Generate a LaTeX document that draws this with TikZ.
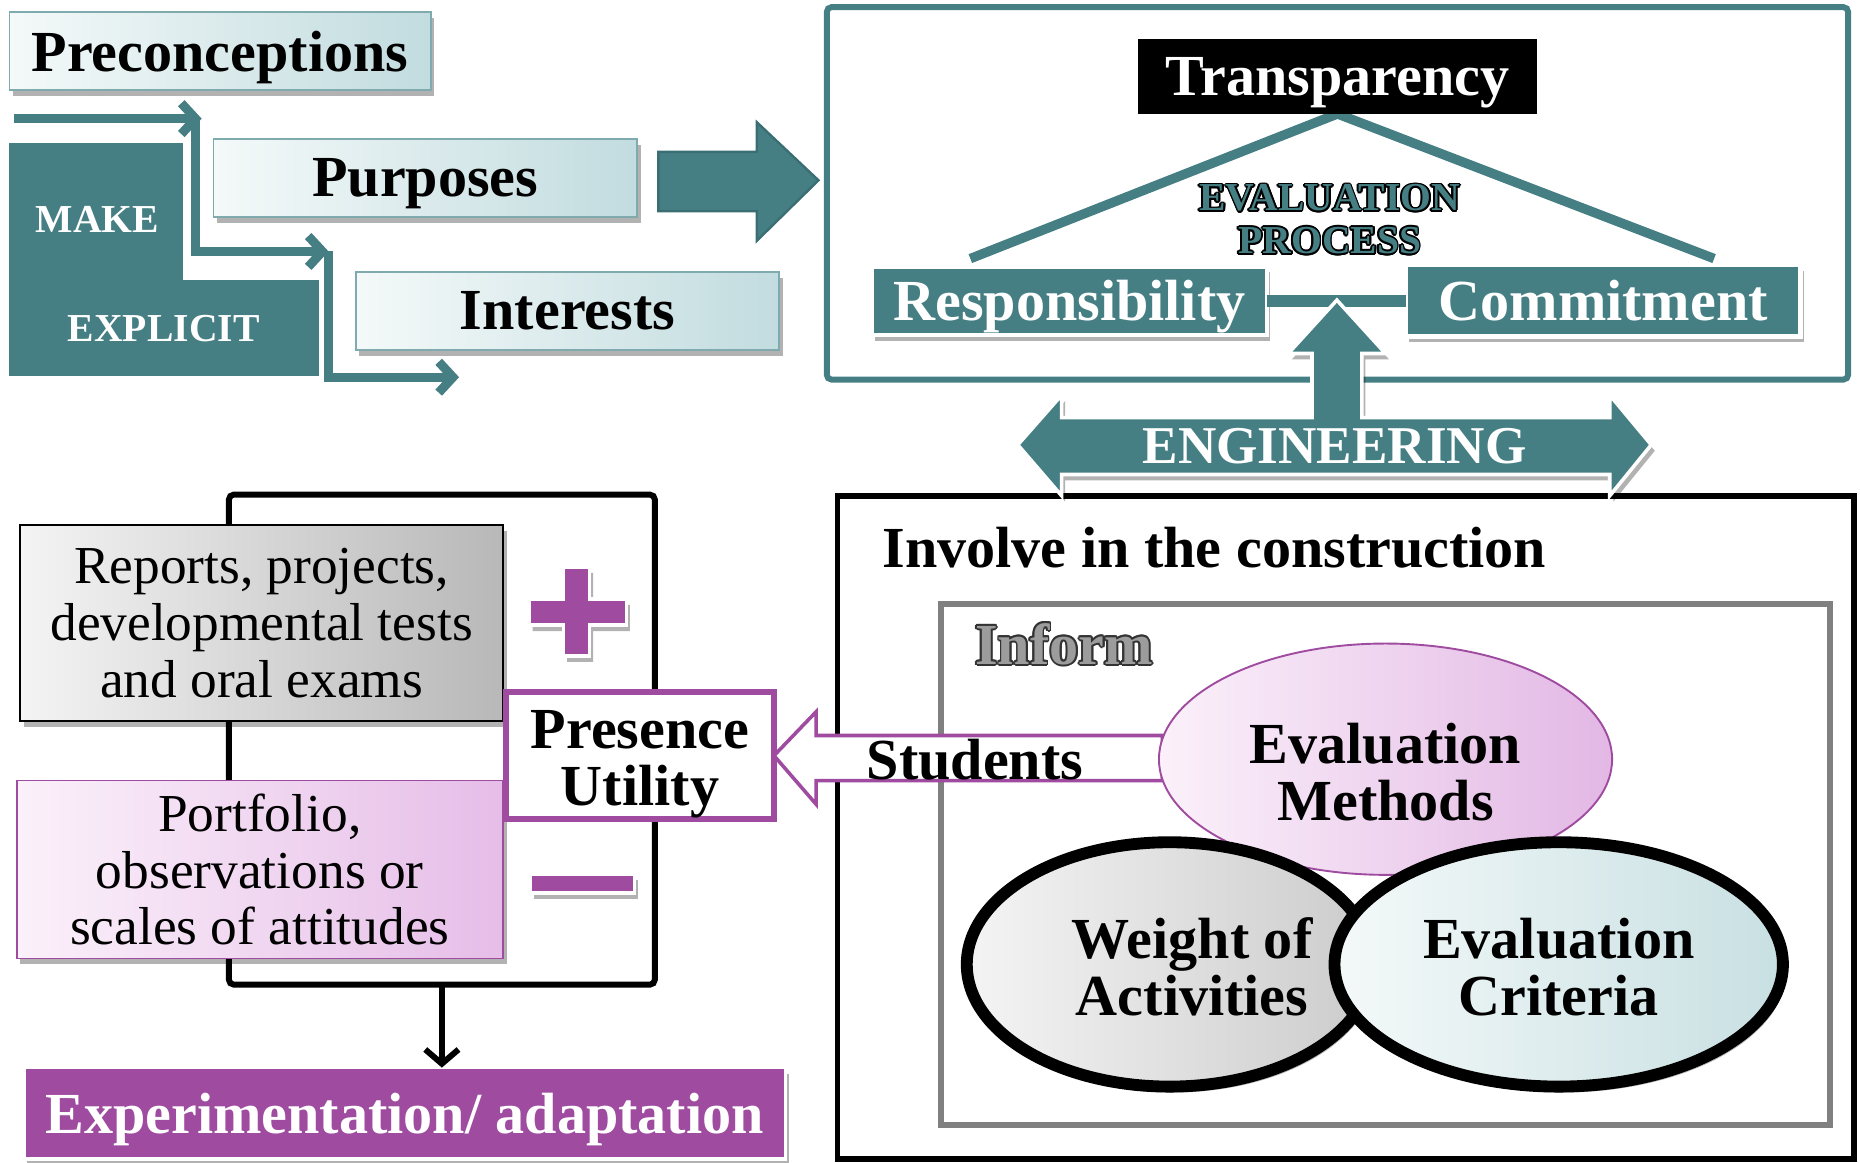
\documentclass[tikz,border=0pt]{standalone}
\usepackage{fontspec}
\setmainfont{Liberation Serif}
\usetikzlibrary{shadows,arrows.meta,shapes.geometric}
\definecolor{tealc}{HTML}{457F84}
\definecolor{tealdark}{HTML}{3A6E73}
\definecolor{tealedge}{HTML}{7FAAAE}
\definecolor{tealL}{HTML}{F4F9F9}
\definecolor{tealR}{HTML}{C2DCDF}
\definecolor{purp}{HTML}{9E4BA0}
\definecolor{pinkL}{HTML}{FBF1FA}
\definecolor{pinkR}{HTML}{E6BDE8}
\definecolor{grayL}{HTML}{F4F4F4}
\definecolor{grayR}{HTML}{B8B8B8}
\definecolor{grayline}{HTML}{808080}
\definecolor{informfill}{HTML}{9C9C9C}
\tikzset{
 shad/.style={drop shadow={shadow xshift=1.5pt,shadow yshift=-2.5pt,opacity=0.3,fill=black}},
 lbl/.style={font=\fontsize{24.5}{24}\selectfont\bfseries, align=center},
 lblsm/.style={font=\fontsize{16.7}{18}\selectfont\bfseries, align=center},
 reg/.style={font=\fontsize{22.5}{24}\selectfont, align=center},
 nodepth/.style={text depth=0pt},
 tbox/.style={draw=tealedge, line width=0.8pt, left color=tealL, right color=tealR, shad, inner sep=0pt, outer sep=0pt},
 sbox/.style={inner sep=0pt, outer sep=0pt},
 tline/.style={draw=tealc, line width=3.8pt, line join=miter, -{Straight Barb[length=6pt,width=13pt]}},
}
\newcommand\outlinetxt[5]{%
 \foreach \ang in {0,30,...,330}{\node[#2, text=#4] (#1o\ang) at ([shift={(\ang:0.75pt)}]#1) {#5};}
 \node[#2, text=#3] (#1t) at (#1) {#5};}
\begin{document}
\begin{tikzpicture}[x=0.5pt,y=-0.5pt]
\useasboundingbox (0,0) rectangle (1568,980);
% ---------------- top left
\node[tbox, minimum width=177.5pt, minimum height=33pt, lbl, nodepth] (pre) at (185.5,43) {Preconceptions};
\path[fill=tealc, draw=white, line width=0.8pt] (7,120) -- (155,120) -- (155,235) -- (270,235) -- (270,318) -- (7,318) -- cycle;
\node[lblsm, text=white] (make) at (82,185) {MAKE};
\node[lblsm, text=white] (expl) at (138,277) {EXPLICIT};
\coordinate (a0) at (12,100); \coordinate (a1) at (170,100);
\coordinate (b0) at (165,100); \coordinate (b1) at (165,212); \coordinate (b2) at (277,212);
\coordinate (c0) at (277,212); \coordinate (c1) at (277,318); \coordinate (c2) at (387,318);
\draw[tline] (a0) -- (a1);
\draw[tline] (b0) -- (b1) -- (b2);
\draw[tline] (c0) -- (c1) -- (c2);
\node[tbox, minimum width=178.5pt, minimum height=33pt, lbl, nodepth] (pur) at (358.5,150) {Purposes};
\node[tbox, minimum width=178.5pt, minimum height=33pt, lbl, nodepth] (int) at (478.5,262) {Interests};
\draw[fill=tealc, draw=tealdark, line width=1pt] (555,128) -- (638,128) -- (638,103) -- (690,152) -- (638,203) -- (638,178) -- (555,178) -- cycle;
% ---------------- top right
\node[draw=tealc, line width=2.5pt, rounded corners=2pt, minimum width=430.5pt, minimum height=157pt, sbox] (tr) at (1127.5,163) {};
\coordinate (tl) at (818,218); \coordinate (trr) at (1445,218);
\coordinate (apex) at (1127.5,96);
\draw[draw=tealc, line width=4pt] (tl) -- (apex) -- (trr);
\node[fill=black, text=white, lbl, nodepth, minimum width=168.5pt, minimum height=31.5pt, sbox] (tra) at (1127.5,64.5) {Transparency};
\coordinate (ev1) at (1121,167); \coordinate (ev2) at (1121,203);
\outlinetxt{ev1}{lblsm}{tealc}{black}{EVALUATION}
\outlinetxt{ev2}{lblsm}{tealc}{black}{PROCESS}
\node[fill=tealc, draw=white, line width=2pt, shad, text=white, lbl, nodepth, minimum width=166.5pt, minimum height=29pt, sbox] (resp) at (901.5,253.5) {Responsibility};
\node[fill=tealc, draw=white, line width=2pt, shad, text=white, lbl, nodepth, minimum width=166.5pt, minimum height=30pt, sbox] (com) at (1351.5,253.5) {Commitment};
\draw[tealc, line width=5pt] (resp.east) -- (com.west);
% ---------------- bottom right
\node[draw=black, line width=2.5pt, minimum width=428.5pt, minimum height=279.5pt, sbox] (inv) at (1134.5,697.5) {};
\node[lbl, anchor=west] (invt) at (737,462) {Involve in the construction};
\node[draw=grayline, line width=2.5pt, minimum width=375pt, minimum height=219.5pt, sbox] (gr) at (1168,728.5) {};
\coordinate (inf) at (897,543);
\outlinetxt{inf}{lbl}{informfill}{black!80}{Inform}
% engineering arrow
\draw[fill=tealc, draw=white, line width=1.5pt, shad] (858,375) -- (895,333) -- (895,352) -- (1106,352) -- (1106,298) -- (1086,298) -- (1127,253) -- (1168,298) -- (1148,298) -- (1148,352) -- (1357,352) -- (1357,333) -- (1392,375) -- (1357,418) -- (1357,400) -- (895,400) -- (895,418) -- cycle;
\node[font=\fontsize{22.4}{24}\selectfont\bfseries, text=white] (eng) at (1125,376) {ENGINEERING};
% ---------------- bottom left
\node[draw=black, line width=2.5pt, rounded corners=2pt, minimum width=179.5pt, minimum height=206.5pt, sbox] (brk) at (372.5,623.5) {};
\node[draw=black, line width=0.8pt, left color=grayL, right color=grayR, shad, minimum width=203.5pt, minimum height=82.5pt, sbox, reg] (rep) at (220.5,525) {Reports, projects,\\developmental tests\\and oral exams};
\node[draw=purp, line width=0.8pt, left color=pinkL, right color=pinkR, shad, minimum width=205pt, minimum height=75pt, sbox, reg] (port) at (219,733) {Portfolio,\\observations or\\scales of attitudes};
\path[fill=purp, draw=white, line width=1.5pt, shad] (475,478) -- (497,478) -- (497,505) -- (528,505) -- (528,527) -- (497,527) -- (497,553) -- (475,553) -- (475,527) -- (446,527) -- (446,505) -- (475,505) -- cycle;
\path[fill=purp, draw=white, line width=1.5pt, shad] (447,737) rectangle (535,753);
\node[draw=purp, fill=white, line width=2.5pt, minimum width=113pt, minimum height=53.5pt, sbox] (pres) at (539.5,637) {};
\node[lbl] (prest) at (539.5,644) {Presence\\Utility};
\node[fill=purp, draw=white, line width=1.5pt, shad, text=white, lbl, nodepth, minimum width=321pt, minimum height=38.5pt, sbox] (exp) at (341,938.5) {Experimentation/ adaptation};
\draw[black, line width=2.5pt, -{Straight Barb[length=6pt,width=14pt]}] (brk.south) -- (brk.south |- exp.north);
% students arrow
\draw[draw=purp, fill=white, line width=1.5pt] (pres.east) -- (688,600) -- (688,620) -- (980,620) -- (980,658) -- (688,658) -- (688,678) -- cycle;
\node[lbl] (stu) at (822,640) {Students};
% ellipses
\node[ellipse, draw=purp, line width=0.8pt, left color=pinkL, right color=pinkR!95!purp, minimum width=191pt, minimum height=97.5pt, sbox] (meth) at (1168,640) {};
\node[lbl] (metht) at (1168,651) {Evaluation\\Methods};
\node[ellipse, draw=black, line width=5pt, left color=grayL, right color=gray!40, shad, minimum width=171pt, minimum height=103pt, sbox] (wei) at (986,813) {};
\node[ellipse, draw=black, line width=5pt, left color=tealL, right color=tealR!90, shad, minimum width=189pt, minimum height=103pt, sbox] (cri) at (1314,813) {};
\node[lbl] (weit) at (1005,815) {Weight of\\Activities};
\node[lbl] (crit) at (1314,815) {Evaluation\\Criteria};
\end{tikzpicture}
\end{document}
